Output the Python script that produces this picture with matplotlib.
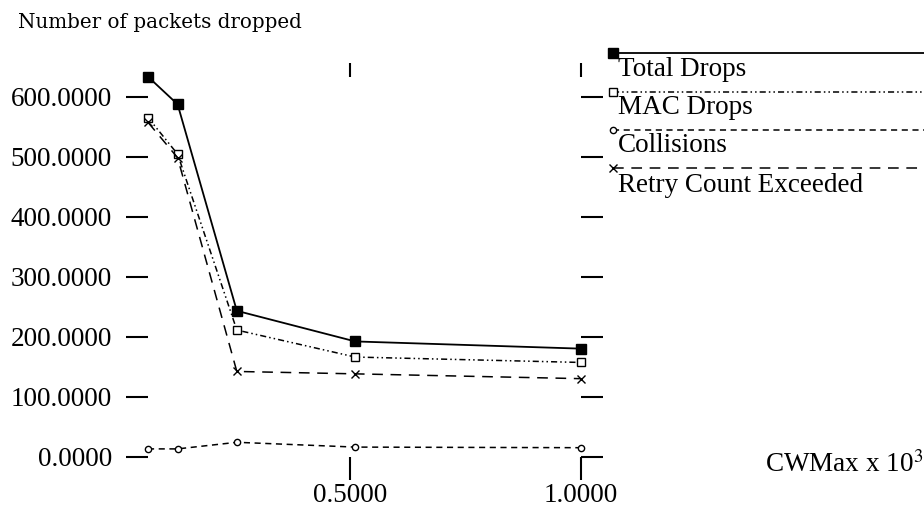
import matplotlib
matplotlib.use("Agg")
import matplotlib.pyplot as plt
import numpy as np
from matplotlib.lines import Line2D

plt.rcParams["font.family"] = "Liberation Serif"
plt.rcParams["mathtext.fontset"] = "stix"

# CWMax x 10^3
cwmax = [0.064, 0.128, 0.256, 0.512, 1.0]
total_drops = [633, 587, 243, 192, 180]
mac_drops = [565, 504, 211, 166, 157]
collisions = [13, 13, 24, 16, 15]
retry_exceeded = [557, 498, 142, 138, 130]

yticks = [0, 100, 200, 300, 400, 500, 600]
xticks = [0.5, 1.0]

series = [
    ("Total Drops", total_drops, dict(ls="-", lw=1.3, marker="s", ms=6.5, mfc="black", mec="black")),
    ("MAC Drops", mac_drops, dict(ls=(0, (4, 2, 1, 2, 1, 2)), lw=1.1, marker="s", ms=5.5, mfc="white", mec="black", mew=1.0)),
    ("Collisions", collisions, dict(ls=(0, (4, 3)), lw=1.1, marker="o", ms=4.5, mfc="white", mec="black", mew=1.0)),
    ("Retry Count Exceeded", retry_exceeded, dict(ls=(0, (7, 5)), lw=1.1, marker="x", ms=6, mec="black", mew=1.0)),
]

W, H = 924, 507
fig = plt.figure(figsize=(W / 100, H / 100), dpi=100)
ax = fig.add_axes([148 / W, 1 - 456.7 / H, (581 - 148) / W, (456.7 - 76.7) / H])

for name, vals, st in series:
    ax.plot(cwmax, vals, color="black", clip_on=False, **st)

ax.set_xlim(min(cwmax), max(cwmax))
ax.set_ylim(0, max(total_drops))
for s in ax.spines.values():
    s.set_visible(False)

ax.set_yticks(yticks)
ax.set_yticklabels([f"{v:.4f}" for v in yticks], fontsize=19.5)
ax.set_xticks(xticks)
ax.set_xticklabels([f"{v:.4f}" for v in xticks], fontsize=19.5)
ax.tick_params(axis="y", direction="out", length=16, width=1.5, left=True, right=True, pad=10)
ax.tick_params(axis="x", direction="out", length=16.5, width=1.5, bottom=True, top=False, pad=2.5)

top = ax.secondary_xaxis("top")
top.set_xticks(xticks)
top.tick_params(direction="out", length=10, width=1.5, labeltop=False)
for s in top.spines.values():
    s.set_visible(False)

# axis titles
fig.text(18 / W, 1 - 22 / H, "Number of packets dropped", family="DejaVu Serif",
         fontsize=14.3, ha="left", va="center")
fig.text(765 / W, 1 - 465 / H, r"CWMax x 10$^3$", fontsize=19.5, ha="left", va="center")

# legend, drawn the xgraph way: line with marker then label underneath
line_y = [53, 92, 130, 168]
text_y = [69, 108, 146, 185]
for (name, vals, st), ly, ty in zip(series, line_y, text_y):
    yy = 1 - ly / H
    fig.add_artist(Line2D([613 / W, 1.0], [yy, yy], color="black",
                          ls=st["ls"], lw=st["lw"]))
    mk = {k: v for k, v in st.items() if k not in ("ls", "lw")}
    fig.add_artist(Line2D([613 / W], [yy], color="black", ls="none", **mk))
    fig.text(618 / W, 1 - ty / H, name, fontsize=19.5, ha="left", va="center")

fig.savefig("out.png", dpi=100)
